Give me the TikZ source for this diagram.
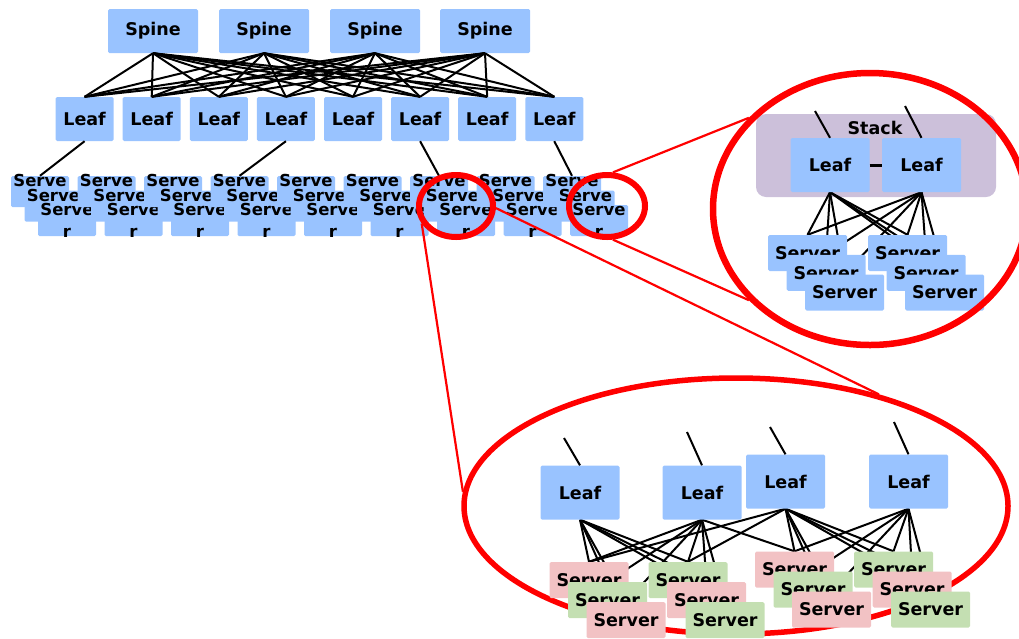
\documentclass[tikz,border=0pt]{standalone}
\usepackage{fontspec}
\setmainfont{DejaVu Sans}
\usetikzlibrary{shapes.geometric}
\definecolor{boxblue}{RGB}{153,195,255}
\definecolor{boxpink}{RGB}{242,194,196}
\definecolor{boxgreen}{RGB}{196,223,178}
\definecolor{stackpurple}{RGB}{204,192,218}
\pgfdeclarelayer{back}
\pgfdeclarelayer{wires}
\pgfsetlayers{back,wires,main}

\begin{document}
\begin{tikzpicture}[x=1pt,y=-1pt,
    box/.style={fill=boxblue,rounded corners=1.5pt,inner sep=0pt,
      font=\bfseries\fontsize{17.5}{20}\selectfont},
    spinebox/.style={box,minimum width=90pt,minimum height=44pt},
    leafbox/.style={box,minimum width=58pt,minimum height=44pt},
    bigleaf/.style={box,minimum width=79pt,minimum height=54pt},
    srvbox/.style={box,minimum width=79pt,minimum height=36pt},
    tinysrv/.style={box,minimum width=58pt,minimum height=31pt},
    tinytxt/.style={align=center,inner sep=0pt,font=\bfseries\fontsize{16.5}{22}\selectfont},
    link/.style={line width=2pt},
    ring/.style={draw=red,line width=6pt,ellipse,inner sep=0pt},
    zoomline/.style={red,line width=2.2pt}]
  \useasboundingbox (0,0) rectangle (1019,638);

  % spine / leaf fabric
  \foreach \i/\x in {1/153,2/264,3/375,4/485}
    \node[spinebox] (sp\i) at (\x,31) {Spine};
  \foreach \j in {1,...,8}
    \node[leafbox] (lf\j) at ({84.6+67.1*(\j-1)},119) {Leaf};
  \foreach \i in {1,...,4}
    \foreach \j in {1,...,8}
      \draw[link] (sp\i.south) -- (lf\j.north);

  % server stacks
  \foreach \cl in {0,...,8}
    \foreach \rw in {0,1,2}
      \node[tinysrv,label={[tinytxt]center:Serve\\r}] (ts\cl\rw)
        at ({40+66.5*\cl+13.5*\rw},{191.5+14.5*\rw}) {};
  \foreach \j/\cl in {1/0,4/3,6/6,8/8}
    \draw[link] (lf\j.south) -- (ts\cl0.north);

  % stacked leaf pair
  \begin{pgfonlayer}{back}
    \node[fill=stackpurple,rounded corners=10pt,minimum width=240pt,
      minimum height=83pt,inner sep=0pt] (stack) at (876,155.5) {};
  \end{pgfonlayer}
  \node[font=\bfseries\fontsize{17.5}{20}\selectfont,inner sep=0pt] (stacklbl) at (875,128) {Stack};
  \node[bigleaf] (sl1) at (830,165) {Leaf};
  \node[bigleaf] (sl2) at (921.5,165) {Leaf};
  \draw[line width=3pt] (sl1.east) -- (sl2.west);
  \coordinate (su1) at (815,111);
  \coordinate (su2) at (905,106);
  \draw[link] (su1) -- (sl1.north);
  \draw[link] (su2) -- (sl2.north);
  \foreach \g/\x in {1/807.5,2/907.5}
    \foreach \k in {0,1,2}
      \node[srvbox] (ss\g\k) at ({\x+18.5*\k},{253+19.75*\k}) {Server};
  \begin{pgfonlayer}{wires}
    \foreach \g in {1,2}
      \foreach \k in {0,1,2} {
        \draw[link] (sl1.south) -- (ss\g\k.north);
        \draw[link] (sl2.south) -- (ss\g\k.north);
      }
  \end{pgfonlayer}

  % single leaves with dual-homed servers
  \node[bigleaf] (pl1) at (580,492.5) {Leaf};
  \node[bigleaf] (pl2) at (702,492.5) {Leaf};
  \node[bigleaf] (pl3) at (785.5,481.5) {Leaf};
  \node[bigleaf] (pl4) at (908.5,481.5) {Leaf};
  \foreach \l/\x/\y in {1/564/438,2/687/432,3/770/427,4/894/422} {
    \coordinate (pu\l) at (\x,\y);
    \draw[link] (pu\l) -- (pl\l.north);
  }
  \foreach \g/\x/\y/\ca/\cb in {a/589/580/boxpink/boxgreen,b/688/580/boxgreen/boxpink,
      c/794.5/569.5/boxpink/boxgreen,d/893.5/569.5/boxgreen/boxpink}
    \foreach \k/\cc in {0/\ca,1/\cb,2/\ca}
      \node[srvbox,fill=\cc] (ps\g\k) at ({\x+18.5*\k},{\y+20*\k}) {Server};
  \begin{pgfonlayer}{wires}
    \foreach \l in {1,2}
      \foreach \g in {a,b}
        \foreach \k in {0,1,2}
          \draw[link] (pl\l.south) -- (ps\g\k.north);
    \foreach \l in {3,4}
      \foreach \g in {c,d}
        \foreach \k in {0,1,2}
          \draw[link] (pl\l.south) -- (ps\g\k.north);
    \draw[link] (pl2.south) -- (psc0.north);
    \draw[link] (pl3.south) -- (psb0.north);
    \draw[link] (pl3.south) -- (psa0.north);
  \end{pgfonlayer}

  % zoom rings
  \node[ring,minimum width=74pt,minimum height=62pt] (zoomA) at (456,206) {};
  \node[ring,minimum width=76pt,minimum height=62pt] (zoomB) at (607,206) {};
  \node[ring,line width=6.5pt,minimum width=314pt,minimum height=272pt] (zoomStack) at (870,209) {};
  \begin{pgfonlayer}{back}
    \node[ring,line width=5.5pt,minimum width=544pt,minimum height=256pt] (zoomPod) at (736,506) {};
  \end{pgfonlayer}
  \draw[zoomline] (zoomB.80) -- (zoomStack.143);
  \draw[zoomline] (zoomB.280) -- (zoomStack.217);
  \draw[zoomline] (zoomA.357) -- (zoomPod.38);
  \draw[zoomline] (zoomA.207) -- (zoomPod.177);
\end{tikzpicture}
\end{document}
